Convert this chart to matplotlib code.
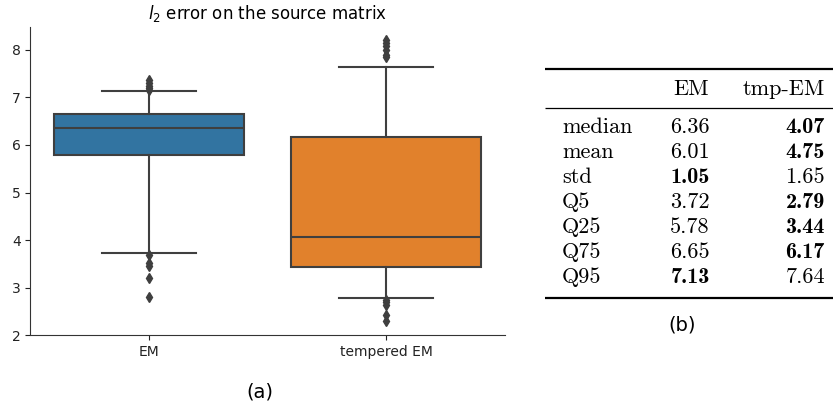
import matplotlib

matplotlib.use("Agg")
import matplotlib.pyplot as plt
import numpy as np

# --- box plot summary (whiskers at the 5th / 95th percentile) ---------------
methods = ["EM", "tempered EM"]
medians = [6.36, 4.07]
q1 = [5.78, 3.44]
q3 = [6.65, 6.17]
whislo = [3.72, 2.79]
whishi = [7.13, 7.64]
fliers_em = [7.16, 7.20, 7.25, 7.30, 7.36, 3.69, 3.52, 3.46, 3.21, 2.81]
fliers_tmp = [7.84, 7.90, 8.00, 8.08, 8.14, 8.20, 2.75, 2.70, 2.63, 2.42, 2.30]

# --- table (b) ---------------------------------------------------------------
row_labels = ["median", "mean", "std", "Q5", "Q25", "Q75", "Q95"]
col_labels = ["EM", "tmp-EM"]
em_vals = [6.36, 6.01, 1.05, 3.72, 5.78, 6.65, 7.13]
tmp_vals = [4.07, 4.75, 1.65, 2.79, 3.44, 6.17, 7.64]

BLUE = "#3274a1"
ORANGE = "#e1812c"
LINE = "#3f3f3f"

W, H = 833, 408
fig = plt.figure(figsize=(W / 100, H / 100), dpi=100)

# left panel: box plot
ax = fig.add_axes([30.5 / W, 1 - 335.3 / H, 474 / W, 308.3 / H])
stats = []
for i, name in enumerate(methods):
    stats.append(dict(label=name, med=medians[i], q1=q1[i], q3=q3[i],
                      whislo=whislo[i], whishi=whishi[i],
                      fliers=[fliers_em, fliers_tmp][i]))
bp = ax.bxp(stats, positions=[0, 1], widths=0.8, patch_artist=True,
            boxprops=dict(edgecolor=LINE, linewidth=1.5),
            medianprops=dict(color=LINE, linewidth=1.5),
            whiskerprops=dict(color=LINE, linewidth=1.5),
            capprops=dict(color=LINE, linewidth=1.5),
            flierprops=dict(marker="d", markerfacecolor=LINE, markeredgecolor=LINE,
                            markersize=5.5, linestyle="none"))
for patch, c in zip(bp["boxes"], [BLUE, ORANGE]):
    patch.set_facecolor(c)
ax.set_xlim(-0.5, 1.5)
ax.set_ylim(2, 8.48)
ax.set_yticks([2, 3, 4, 5, 6, 7, 8])
ax.set_xticks([0, 1])
ax.set_xticklabels(methods)
ax.tick_params(labelsize=10, colors="#222222")
for s in ["top", "right"]:
    ax.spines[s].set_visible(False)
for s in ["left", "bottom"]:
    ax.spines[s].set_color("#333333")
ax.set_title(r"$l_2$ error on the source matrix", fontsize=12, pad=6)
fig.text(260 / W, 1 - 392 / H, "(a)", fontsize=14, ha="center", va="center")

# right panel: table drawn in pixel coordinates
tax = fig.add_axes([0, 0, 1, 1])
tax.set_xlim(0, W)
tax.set_ylim(H, 0)
tax.axis("off")

FS = 16
x_lab, x_em, x_tmp = 562, 690, 825
tax.hlines(69, 545, 833, color="black", lw=1.6)
tax.hlines(108, 545, 833, color="black", lw=0.9)
tax.hlines(298, 545, 833, color="black", lw=1.6)
tax.text(691, 95, col_labels[0], family="cmr10", fontsize=FS, ha="center", va="baseline")
tax.text(784, 95, col_labels[1], family="cmr10", fontsize=FS, ha="center", va="baseline")
for i, lab in enumerate(row_labels):
    yb = 133 + i * 25
    tax.text(x_lab, yb, lab, family="cmr10", fontsize=FS, ha="left", va="baseline")
    best = min(em_vals[i], tmp_vals[i])
    tax.text(x_em, yb, f"{em_vals[i]:.2f}", fontsize=FS, ha="center", va="baseline",
             family="cmb10" if em_vals[i] == best else "cmr10")
    tax.text(x_tmp, yb, f"{tmp_vals[i]:.2f}", fontsize=FS, ha="right", va="baseline",
             family="cmb10" if tmp_vals[i] == best else "cmr10")
fig.text(682 / W, 1 - 325 / H, "(b)", fontsize=14, ha="center", va="center")

fig.savefig("out.png", dpi=100)
